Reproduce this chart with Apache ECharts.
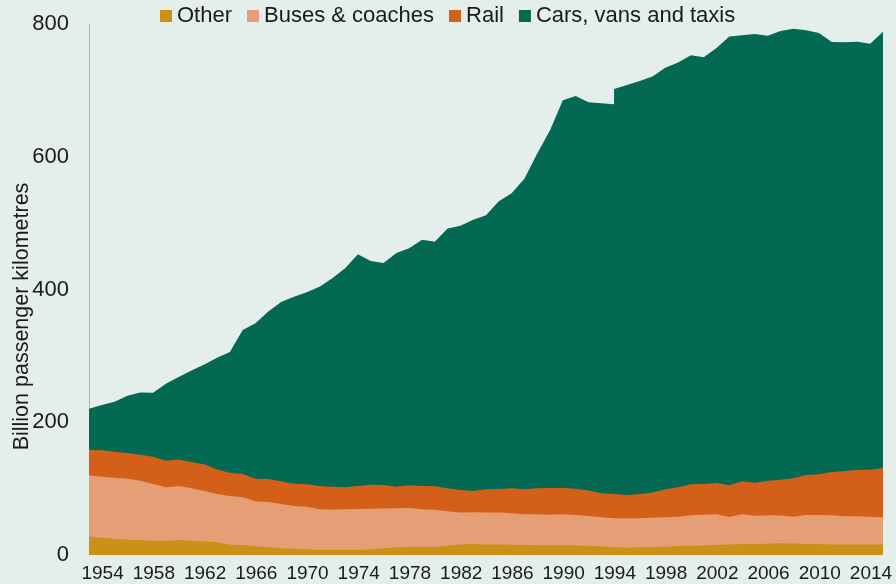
<!DOCTYPE html>
<html>
<head>
<meta charset="utf-8">
<script src="https://cdn.jsdelivr.net/npm/echarts@6/dist/echarts.min.js"></script>
<style>
  html, body { margin: 0; padding: 0; background: #e4eeeb; }
  #chart { width: 896px; height: 584px; }
</style>
</head>
<body>
<div id="chart"></div>
<script>
// years, 1993 appears twice (break in the cars series)
var years = [1952,1953,1954,1955,1956,1957,1958,1959,1960,1961,1962,1963,1964,1965,1966,1967,1968,1969,1970,1971,
  1972,1973,1974,1975,1976,1977,1978,1979,1980,1981,1982,1983,1984,1985,1986,1987,1988,1989,1990,1991,1992,1993,
  1993,1994,1995,1996,1997,1998,1999,2000,2001,2002,2003,2004,2005,2006,2007,2008,2009,2010,2011,2012,2013,2014];

var other = [28,26,24,23,22.6,21.5,21,22.6,21.5,20.5,19.6,15.5,15,13,12,10,9.5,8.5,7.5,7.5,
  7.5,7.5,8.5,10,11.5,12.5,12.6,12,14,16,16.6,16,16,15.6,15,14.6,14.6,14.6,14.6,13.5,13,11.5,
  11.5,11,11.5,12,12.5,13.5,14,14.5,15,16,16.6,16.6,17,17.6,17.5,16.6,16.5,16,16,16,16,16];

var buses = [92,92,92.5,92,89.4,85.5,81,81.4,79,75.9,72.4,73.5,72,68,68,67,64.5,64.3,61.5,60.8,
  61.5,61.8,61.3,60,58.8,58.3,56.4,56,52,48,47.7,48,48,47.4,46.4,46.8,46.2,46.8,45.7,45.3,43.8,43.8,
  43.8,44.3,44,44.3,44.5,44.3,45.8,46,46.3,41.3,44.7,42.7,42.8,41.9,40.3,43.7,43.8,43.8,42.3,42.3,41.5,40.8];

var rail = [38.5,39.7,39.1,38.7,39,41,40,40,39.5,40.2,37,35,35,34,34.5,34,33.5,33.7,35,34.7,
  33,34.7,36.2,35.5,32.7,34.2,35,35.5,34.5,34,32.1,35,35.4,37.5,37.6,39.1,40.2,39.6,39.7,38.2,36.2,36.7,
  36.7,35.1,36.5,37.7,42,44.2,46.7,46.5,47.2,47.7,49.7,49.7,52.2,54,57.7,60.2,61.3,65.2,68.3,69.7,71,74.2];

var cars = [62,68.3,75.4,86.3,94,96.5,116,124,138,150.4,168,182,217,234,252.5,270,281.5,289.5,300,314,
  330,349,337,334.5,352,357,371,368.5,391.5,398,408.6,413,433.6,444.5,468,504.5,539,584,591.5,585,587.5,587,
  610,617.6,622,627,635,640,646.5,643,655.5,676,672,676,670.4,676,677.5,670,664.8,648,645.8,645.4,641.8,657.4];

var yearLabels = [1954,1958,1962,1966,1970,1974,1978,1982,1986,1990,1994,1998,2002,2006,2010,2014];

var seriesNames = ['Other', 'Buses & coaches', 'Rail', 'Cars, vans and taxis'];
var seriesColors = ['#cb9116', '#e59e75', '#d45f18', '#046952'];
var seriesValues = [other, buses, rail, cars];

// running totals, bottom layer first (the x axis is numeric, so the areas are
// layered by hand: the top layer is drawn first and the lower ones over it)
var running = years.map(function () { return 0; });
var stacked = seriesValues.map(function (vals) {
  running = running.map(function (s, k) { return s + vals[k]; });
  return running.slice();
});

var chart = echarts.init(document.getElementById('chart'), null, { renderer: 'canvas' });

var series = [];
for (var i = seriesNames.length - 1; i >= 0; i--) {
  series.push({
    name: seriesNames[i],
    type: 'line',
    showSymbol: false,
    symbol: 'none',
    lineStyle: { width: 0 },
    areaStyle: { color: seriesColors[i], opacity: 1 },
    itemStyle: { color: seriesColors[i] },
    data: years.map(function (y, k) { return [y, stacked[i][k]]; })
  });
}

chart.setOption({
  animation: false,
  backgroundColor: '#e4eeeb',
  textStyle: { fontFamily: 'Liberation Sans, Arial, sans-serif', color: '#1a1a1a' },
  legend: {
    data: seriesNames,
    left: 155,
    top: 0,
    icon: 'rect',
    itemWidth: 12,
    itemHeight: 12,
    itemGap: 15,
    textStyle: { fontSize: 22, color: '#1a1a1a' }
  },
  grid: { left: 89, right: 13, top: 24, bottom: 29, containLabel: false, outerBoundsMode: 'none' },
  xAxis: {
    type: 'value',
    min: 1952,
    max: 2014,
    axisLine: { show: false },
    axisTick: { show: false },
    splitLine: { show: false },
    axisLabel: {
      customValues: yearLabels,
      formatter: function (v) { return String(v); },
      fontSize: 19,
      color: '#1a1a1a',
      margin: 9,
      padding: [0, 24, 0, 0]
    }
  },
  yAxis: {
    type: 'value',
    min: 0,
    max: 800,
    interval: 200,
    name: 'Billion passenger kilometres',
    nameLocation: 'middle',
    nameMoveOverlap: false,
    nameGap: 56,
    nameTextStyle: { fontSize: 21.5, color: '#1a1a1a', padding: [0, 54, 0, 0] },
    axisLine: { show: true, lineStyle: { color: '#b0b0b0', width: 1 } },
    axisTick: { show: false },
    splitLine: { show: false },
    axisLabel: { fontSize: 22, color: '#1a1a1a', margin: 20 }
  },
  series: series
});
</script>
</body>
</html>
